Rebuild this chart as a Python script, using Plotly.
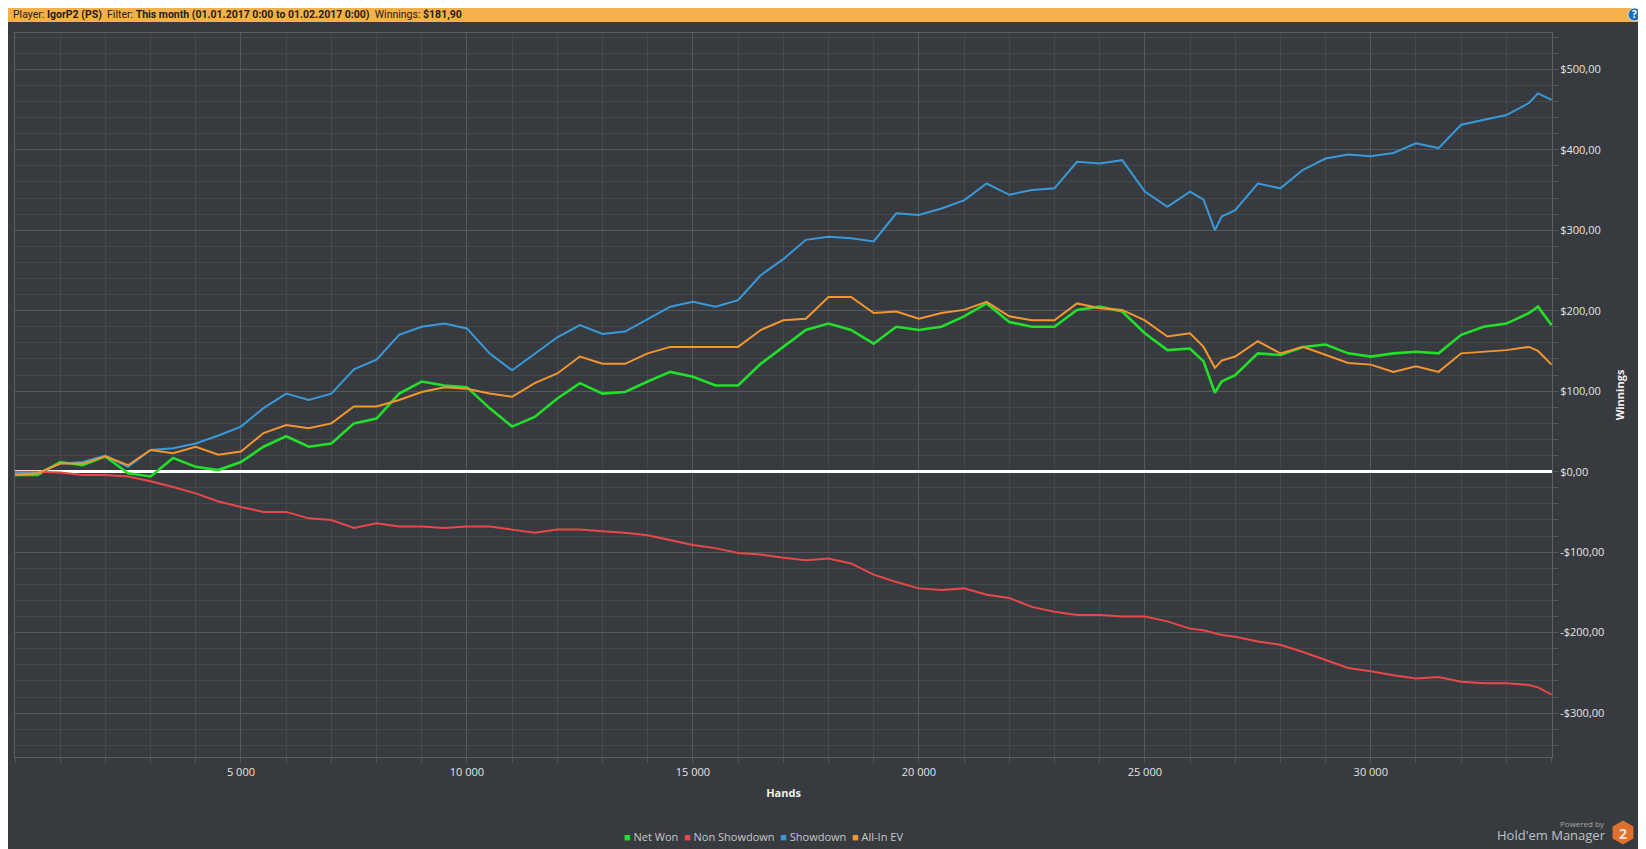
import plotly.graph_objects as go

# hands played (x) and cumulative winnings in $ for each line
HANDS = [0, 500, 1000, 1500, 2000, 2500, 3000, 3500, 4000, 4500, 5000, 5500, 6000, 6500,
         7000, 7500, 8000, 8500, 9000, 9500, 10000, 10500, 11000, 11500, 12000, 12500,
         13000, 13500, 14000, 14500, 15000, 15500, 16000, 16500, 17000, 17500, 18000,
         18500, 19000, 19500, 20000, 20500, 21000, 21500, 22000, 22500, 23000, 23500,
         24000, 24500, 25000, 25500, 26000, 26300, 26550, 26700, 27000, 27500, 28000,
         28500, 29000, 29500, 30000, 30500, 31000, 31500, 32000, 32500, 33000, 33500,
         33700, 34000]

NET_WON = [-4, -4, 12, 8, 19, -2, -6, 17, 6, 2, 12, 31, 44, 31, 35, 60, 66, 97, 112, 107,
           105, 79, 56, 68, 91, 110, 97, 99, 112, 124, 118, 107, 107, 134, 155, 176, 184,
           176, 159, 180, 176, 180, 193, 209, 186, 180, 180, 201, 205, 199, 172, 151, 153,
           137, 98, 112, 120, 147, 145, 155, 158, 147, 143, 147, 149, 147, 170, 180, 184,
           197, 205, 182]

NON_SHOWDOWN = [0, 0, -1, -4, -4, -6, -12, -19, -27, -37, -44, -50, -50, -58, -60, -70,
                -64, -68, -68, -70, -68, -68, -72, -76, -72, -72, -74, -76, -79, -85, -91,
                -95, -101, -103, -107, -110, -108, -114, -128, -137, -145, -147, -145, -153,
                -157, -168, -174, -178, -178, -180, -180, -186, -195, -197, -201, -203, -205,
                -211, -215, -224, -234, -244, -248, -253, -257, -255, -261, -263, -263, -265,
                -268, -277]

SHOWDOWN = [-2, -2, 10, 12, 20, 6, 27, 29, 35, 45, 56, 79, 97, 89, 97, 127, 139, 170, 180,
            184, 178, 147, 126, 147, 167, 182, 171, 174, 190, 205, 211, 205, 213, 244, 264,
            288, 292, 290, 286, 321, 319, 327, 337, 358, 344, 350, 352, 385, 383, 387, 348,
            329, 348, 338, 300, 317, 325, 358, 352, 375, 389, 394, 392, 396, 408, 402, 431,
            437, 443, 458, 470, 462]

ALL_IN_EV = [-4, -2, 10, 10, 19, 8, 27, 23, 31, 21, 25, 48, 58, 54, 60, 81, 81, 89, 99, 105,
             103, 97, 93, 110, 122, 143, 134, 134, 147, 155, 155, 155, 155, 176, 188, 190,
             217, 217, 197, 199, 190, 197, 201, 211, 193, 188, 188, 209, 203, 201, 188, 168,
             172, 155, 129, 138, 143, 162, 147, 155, 145, 135, 133, 124, 131, 124, 147, 149,
             151, 155, 150, 133]

Y_TICKS = [-300, -200, -100, 0, 100, 200, 300, 400, 500]
Y_LABELS = ["-$300,00", "-$200,00", "-$100,00", "$0,00", "$100,00", "$200,00",
            "$300,00", "$400,00", "$500,00"]
X_TICKS = [5000, 10000, 15000, 20000, 25000, 30000]
X_LABELS = ["5 000", "10 000", "15 000", "20 000", "25 000", "30 000"]

SERIES = [("Net Won", NET_WON, "#22e02a", 2.6),
          ("Non Showdown", NON_SHOWDOWN, "#e84848", 2.0),
          ("Showdown", SHOWDOWN, "#3a9ad9", 2.0),
          ("All-In EV", ALL_IN_EV, "#f4962f", 2.0)]

# the page body has an 8px margin, so the figure is shrunk and everything
# is placed in page pixels minus that offset
OFF = 8
W, H = 1646 - OFF, 849 - OFF
L, T = 15 - OFF, 33 - OFF
R, B = 94, 92
PW, PH = W - L - R, H - T - B
BG = "#373a3e"
FONT = "Open Sans, Noto Sans, sans-serif"


def px(x):
    # page pixel x -> paper
    return (x - OFF - L) / PW


def py(y):
    # page pixel y -> paper
    return (T + PH - (y - OFF)) / PH


fig = go.Figure()
for name, vals, col, w in SERIES:
    fig.add_trace(go.Scatter(
        x=HANDS, y=vals, mode="lines", name=name,
        line=dict(color=col, width=w),
        hovertemplate="%{x} hands<br>$%{y:.2f}<extra>" + name + "</extra>",
    ))

# header bar + help button (header sits just under the page's top margin)
HDR_MID = 14.5
shapes = [dict(type="rect", xref="paper", yref="paper",
               x0=px(0), x1=px(1700), y0=py(22), y1=py(0),
               fillcolor="#f4b04a", line=dict(width=0), layer="above"),
          dict(type="circle", xref="paper", yref="paper",
               x0=px(1628), x1=px(1641), y0=py(HDR_MID + 6.5), y1=py(HDR_MID - 6.5),
               fillcolor="#1f6db3", line=dict(color="#d8e6f3", width=1))]

# HM2 hexagon logo
cx, cy, r = 1623, 832.5, 12
pts = [(cx, cy - r), (cx + 10.4, cy - r / 2), (cx + 10.4, cy + r / 2),
       (cx, cy + r), (cx - 10.4, cy + r / 2), (cx - 10.4, cy - r / 2)]
path = "M " + " L ".join(f"{px(a):.5f},{py(b):.5f}" for a, b in pts) + " Z"
shapes.append(dict(type="path", xref="paper", yref="paper", path=path,
                   fillcolor="#e0702e", line=dict(width=0)))

legend_txt = "  ".join(
    f'<span style="color:{col}">■</span> {name}' for name, _, col, _ in SERIES)

annotations = [
    dict(text="Player: <b>IgorP2 (PS)</b>  Filter: <b>This month (01.01.2017 0:00 to "
              "01.02.2017 0:00)</b>  Winnings: <b>$181,90</b>",
         xref="paper", yref="paper", x=px(11), y=py(HDR_MID), xanchor="left",
         yanchor="middle", showarrow=False,
         font=dict(family="Roboto, sans-serif", size=10.5, color="#1e1e1e")),
    dict(text="<b>?</b>", xref="paper", yref="paper", x=px(1634.5), y=py(HDR_MID),
         xanchor="center", yanchor="middle", showarrow=False,
         font=dict(family=FONT, size=10, color="white")),
    dict(text=legend_txt, xref="paper", yref="paper", x=px(763), y=py(836),
         xanchor="center", yanchor="middle", showarrow=False,
         font=dict(family=FONT, size=11, color="#c8c8c8")),
    dict(text="Powered by", xref="paper", yref="paper", x=px(1607), y=py(823),
         xanchor="right", yanchor="middle", showarrow=False,
         font=dict(family=FONT, size=8, color="#a8a8a8")),
    dict(text="Hold'em Manager", xref="paper", yref="paper", x=px(1608), y=py(835),
         xanchor="right", yanchor="middle", showarrow=False,
         font=dict(family=FONT, size=13, color="#c0c0c0")),
    dict(text="<b>2</b>", xref="paper", yref="paper", x=px(1623), y=py(833),
         xanchor="center", yanchor="middle", showarrow=False,
         font=dict(family=FONT, size=14, color="#f3e3d8")),
]

fig.update_layout(
    width=W, height=H,
    margin=dict(l=L, r=R, t=T, b=B),
    paper_bgcolor=BG, plot_bgcolor=BG,
    showlegend=False,
    font=dict(family=FONT, size=11, color="#e0e0e0"),
    shapes=shapes, annotations=annotations,
    xaxis=dict(range=[0, 34010], tickvals=X_TICKS, ticktext=X_LABELS,
               showgrid=True, gridcolor="#55585c", gridwidth=1,
               ticks="outside", ticklen=5, tickcolor="#55585c",
               minor=dict(dtick=1000, showgrid=True, gridcolor="#45484c",
                          ticks="outside", ticklen=5, tickcolor="#55585c"),
               showline=True, linecolor="#5c5f63", mirror=True, zeroline=False,
               tickfont=dict(size=11, color="#e4e4e4"),
               title=dict(text="<b>Hands</b>", standoff=11,
                          font=dict(size=11, color="#f0f0f0"))),
    yaxis=dict(range=[-354.5, 545], side="right", tickvals=Y_TICKS, ticktext=Y_LABELS,
               showgrid=True, gridcolor="#55585c", gridwidth=1,
               ticks="outside", ticklen=5, tickcolor="#55585c",
               minor=dict(dtick=20, showgrid=True, gridcolor="#45484c",
                          ticks="outside", ticklen=5, tickcolor="#55585c"),
               showline=True, linecolor="#5c5f63", mirror=True,
               zeroline=True, zerolinecolor="#ffffff", zerolinewidth=3,
               tickfont=dict(size=11, color="#e4e4e4"),
               title=dict(text="<b>Winnings</b>", standoff=12,
                          font=dict(size=11, color="#f0f0f0"))),
)

fig.write_html("out.html")
